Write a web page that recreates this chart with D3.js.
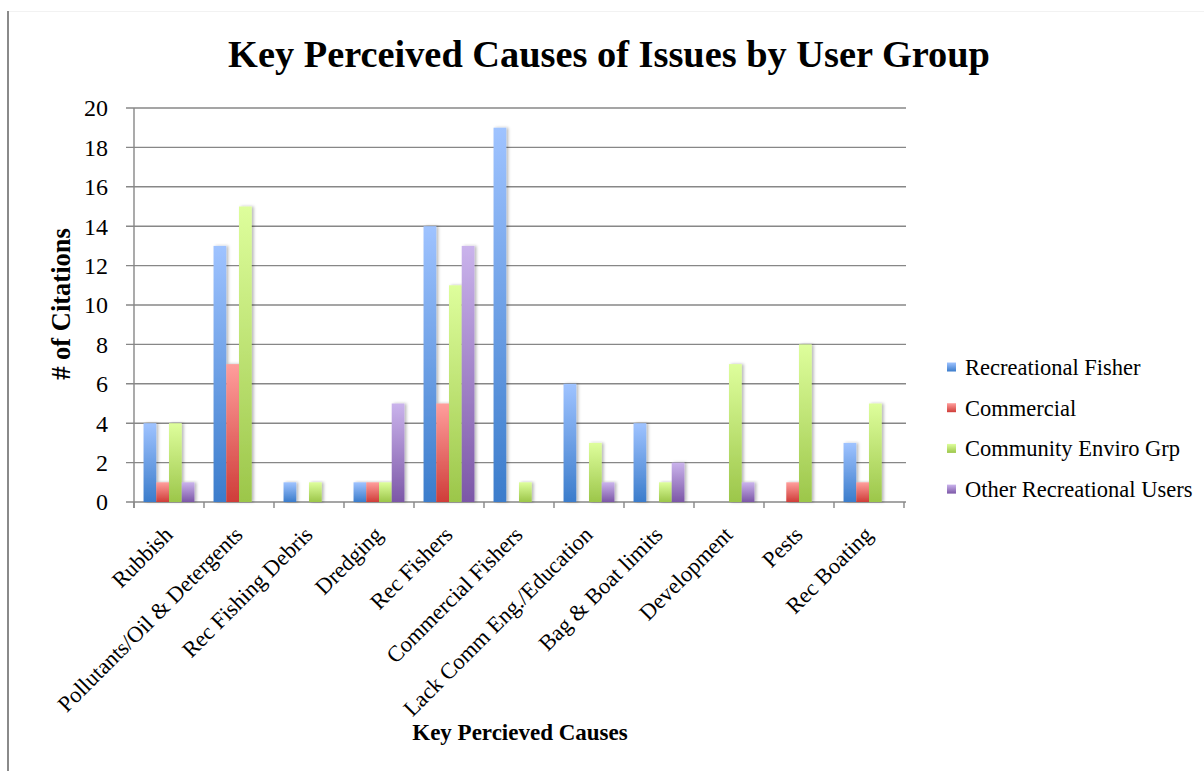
<!DOCTYPE html>
<html>
<head>
<meta charset="utf-8">
<script src="https://cdn.jsdelivr.net/npm/d3@7"></script>
<style>
  html, body { margin: 0; padding: 0; background: #fff; }
  svg { display: block; }
  text { font-family: "Liberation Serif", "DejaVu Serif", serif; fill: #000; }
</style>
</head>
<body>
<svg id="chart" width="1204" height="771"></svg>
<script>
// Causes cited, grouped by user group
const categories = [
  "Rubbish", "Pollutants/Oil & Detergents", "Rec Fishing Debris", "Dredging",
  "Rec Fishers", "Commercial Fishers", "Lack Comm Eng./Education",
  "Bag & Boat limits", "Development", "Pests", "Rec Boating"
];
const seriesNames = ["Recreational Fisher", "Commercial", "Community Enviro Grp", "Other Recreational Users"];
const recreationalFisher = [4, 13, 1, 1, 14, 19, 6, 4, 0, 0, 3];
const commercial         = [1, 7, 0, 1, 5, 0, 0, 0, 0, 1, 1];
const communityEnviro    = [4, 15, 1, 1, 11, 1, 3, 1, 7, 8, 5];
const otherRecreational  = [1, 0, 0, 5, 13, 0, 1, 2, 1, 0, 0];
const yTicks = [0, 2, 4, 6, 8, 10, 12, 14, 16, 18, 20];

const seriesValues = [recreationalFisher, commercial, communityEnviro, otherRecreational];
const gradients = [
  { id: "gBlue",   top: "#9fc3ff", bottom: "#3b7ccb" },
  { id: "gRed",    top: "#ff9e9c", bottom: "#cf3d39" },
  { id: "gGreen",  top: "#defe9c", bottom: "#9cc64a" },
  { id: "gPurple", top: "#cab3ec", bottom: "#7c57a7" }
];

const svg = d3.select("#chart");
const plot = { left: 134, right: 904, top: 108, bottom: 502 };

// defs: vertical gradients and soft bar shadow
const defs = svg.append("defs");
gradients.forEach(g => {
  const lg = defs.append("linearGradient").attr("id", g.id)
    .attr("x1", 0).attr("y1", 0).attr("x2", 0).attr("y2", 1);
  lg.append("stop").attr("offset", "0%").attr("stop-color", g.top);
  lg.append("stop").attr("offset", "100%").attr("stop-color", g.bottom);
});
const shadow = defs.append("filter").attr("id", "barShadow")
  .attr("x", "-50%").attr("y", "-10%").attr("width", "200%").attr("height", "120%");
shadow.append("feDropShadow").attr("dx", 2).attr("dy", 0)
  .attr("stdDeviation", 1.6).attr("flood-color", "#000").attr("flood-opacity", 0.28);

// outer frame edge on the left
svg.append("line").attr("x1", 8).attr("x2", 8).attr("y1", 11).attr("y2", 771)
  .attr("stroke", "#8a8a8a").attr("stroke-width", 2);
svg.append("line").attr("x1", 9).attr("x2", 1204).attr("y1", 11.5).attr("y2", 11.5)
  .attr("stroke", "#f2f2f2").attr("stroke-width", 1);

// scales
const x0 = d3.scaleBand().domain(categories).range([plot.left, plot.right])
  .paddingInner(0).paddingOuter(0);
const x1 = d3.scaleBand().domain(d3.range(seriesNames.length)).range([0, x0.bandwidth()])
  .paddingInner(0).paddingOuter(0.75);
const y = d3.scaleLinear().domain([0, 20]).range([plot.bottom, plot.top]);

const gridColor = "#878787";

// horizontal gridlines with their left tick stubs
svg.append("g").selectAll("line").data(yTicks).join("line")
  .attr("x1", plot.left - 8).attr("x2", plot.right + 2)
  .attr("y1", d => y(d)).attr("y2", d => y(d))
  .attr("stroke", gridColor).attr("stroke-width", 1.4);

// y axis labels
svg.append("g").selectAll("text").data(yTicks).join("text")
  .attr("x", 108).attr("y", d => y(d)).attr("dy", "0.35em")
  .attr("text-anchor", "end").style("font-size", "24px")
  .text(d => d);

// vertical axis line
svg.append("line").attr("x1", plot.left).attr("x2", plot.left)
  .attr("y1", plot.top).attr("y2", plot.bottom + 6)
  .attr("stroke", gridColor).attr("stroke-width", 1.4);

// category boundary ticks below the axis
const boundaries = categories.map(c => x0(c)).concat([plot.right]);
svg.append("g").selectAll("line").data(boundaries).join("line")
  .attr("x1", d => d).attr("x2", d => d)
  .attr("y1", plot.bottom).attr("y2", plot.bottom + 6)
  .attr("stroke", gridColor).attr("stroke-width", 1.4);

// bars
const groups = svg.append("g").selectAll("g").data(categories).join("g")
  .attr("transform", c => `translate(${x0(c)},0)`);
groups.selectAll("rect")
  .data((c, i) => seriesValues.map((vals, s) => ({ s, v: vals[i] })).filter(d => d.v > 0))
  .join("rect")
  .attr("x", d => x1(d.s))
  .attr("width", x1.bandwidth())
  .attr("y", d => y(d.v))
  .attr("height", d => y(0) - y(d.v))
  .attr("fill", d => `url(#${gradients[d.s].id})`)
  .attr("filter", "url(#barShadow)");

// rotated category labels
svg.append("g").selectAll("text").data(categories).join("text")
  .attr("text-anchor", "end")
  .attr("transform", c => `translate(${x0(c) + x0.bandwidth() / 2 + 5},536) rotate(-45)`)
  .style("font-size", "22.5px")
  .text(c => c);

// title
const title = svg.append("text").attr("x", 609).attr("y", 67)
  .attr("text-anchor", "middle")
  .style("font-size", "38px").style("font-weight", "bold")
  .text("Key Perceived Causes of Issues by User Group");
const tw = title.node().getComputedTextLength();
title.style("font-size", (38 * 762 / tw).toFixed(2) + "px");

// axis titles
svg.append("text")
  .attr("transform", "translate(70,304) rotate(-90)")
  .attr("text-anchor", "middle")
  .style("font-size", "26.5px").style("font-weight", "bold")
  .text("# of Citations");
svg.append("text").attr("x", 520).attr("y", 740)
  .attr("text-anchor", "middle")
  .style("font-size", "23px").style("font-weight", "bold")
  .text("Key Percieved Causes");

// legend
const legend = svg.append("g").selectAll("g").data(seriesNames).join("g")
  .attr("transform", (d, i) => `translate(947,${367 + i * 40.7})`);
legend.append("rect").attr("x", 0).attr("y", -4.5).attr("width", 9).attr("height", 9)
  .attr("fill", (d, i) => `url(#${gradients[i].id})`);
legend.append("text").attr("x", 18).attr("dy", "0.35em")
  .style("font-size", "22.5px")
  .text(d => d);
</script>
</body>
</html>
